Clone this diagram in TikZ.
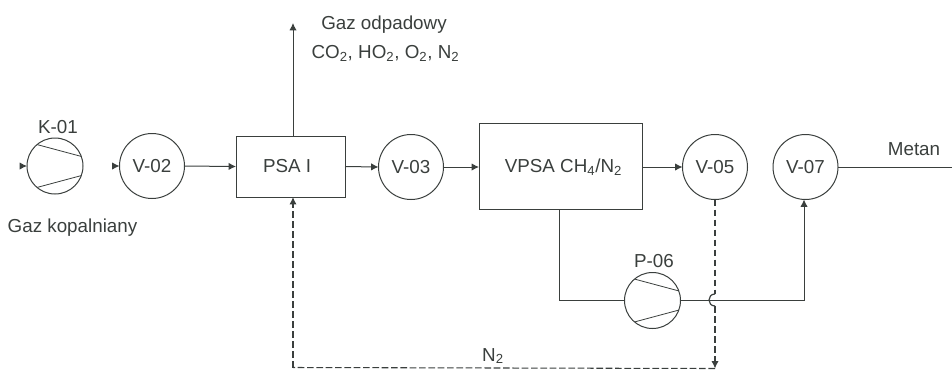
\documentclass[tikz,border=0pt]{standalone}
\usepackage{fontspec}
\setmainfont{Liberation Sans}
\usetikzlibrary{arrows.meta}
\definecolor{ink}{HTML}{3A3F3D}
\tikzset{
  base/.style={draw=ink,line width=.75pt,outer sep=0pt,inner sep=0pt,text=ink},
  valve/.style={base,circle,minimum size=48.75pt},
  pump/.style={base,circle,minimum size=42pt},
  unit/.style={base,rectangle},
  lbl/.style={text=ink,inner sep=0pt,outer sep=0pt},
  flow/.style={draw=ink,line width=.75pt,-{Latex[length=5.5pt,width=5.5pt]}},
  plain/.style={draw=ink,line width=.75pt},
  recycle/.style={draw=ink,line width=1.2pt,dash pattern=on 5pt off 2.5pt},
  recyclehead/.style={recycle,-{Latex[length=5.5pt,width=5.5pt]}},
  recyclethin/.style={draw=ink,line width=.8pt,dash pattern=on 5pt off 2pt},
  hop/.style={draw=ink,line width=.9pt},
  vane/.style={draw=ink,line width=.6pt}
}
\begin{document}
\begin{tikzpicture}[x=.75pt,y=-.75pt,font=\fontsize{14.1}{17}\selectfont]
\useasboundingbox (0,0) rectangle (952,369);
% units
\node[pump]  (k01) at (55,166) {};
\node[valve] (v02) at (152,166) {V-02};
\node[unit,minimum width=81.75pt,minimum height=45.75pt] (psa) at (290.5,166.5) {PSA I\hspace*{5pt}};
\node[valve] (v03) at (411,167) {V-03};
\node[unit,minimum width=122.25pt,minimum height=64.5pt] (vpsa) at (560.5,166) {};
\node[lbl] (lvpsa) at (563.5,167) {VPSA CH\textsubscript{4}/N\textsubscript{2}};
\node[valve] (v05) at (715,167) {V-05};
\node[valve] (v07) at (805.5,167) {V-07};
\node[pump]  (p06) at (652.5,300.5) {};
% compressor vanes
\foreach \c in {k01,p06}{
  \draw[vane] (\c.130) -- (\c.20);
  \draw[vane] (\c.-130) -- (\c.-20);
}
% labels
\node[lbl] (lk01) at (58,127) {K-01};
\node[lbl] (lgk)  at (72.5,228) {Gaz kopalniany};
\node[lbl] (lp06) at (654,261) {P-06};
\node[lbl] (ln2)  at (493,356) {N\textsubscript{2}};
\node[lbl] (lgo)  at (384,25) {Gaz odpadowy};
\node[lbl] (lco)  at (385.5,53) {CO\textsubscript{2}, HO\textsubscript{2}, O\textsubscript{2}, N\textsubscript{2}};
\node[lbl] (lmet) at (914,149) {Metan};
% free ends and bends
\coordinate (ink01) at (20,166);
\coordinate (inv02) at (113,166);
\coordinate (ptop) at (293,136);
\coordinate (top) at (293,23);
\coordinate (pbot) at (293,197);
\coordinate (out) at (952,167);
\coordinate (a) at (559,300.5);
\coordinate (b) at (804,300.5);
\coordinate (jt) at (715,294);
\coordinate (jb) at (715,306);
\coordinate (cr) at (715,368.5);
\coordinate (cl) at (293,367.5);
% connectors
\draw[flow] (ink01) -- (k01.west);
\draw[flow] (inv02) -- (v02.west);
\draw[flow] (v02.east) -- (psa.west);
\draw[flow] (psa.east) -- (v03.west);
\draw[flow] (v03.east) -- (vpsa.west |- v03.east);
\draw[flow] (vpsa.east |- v05.west) -- (v05.west);
\draw[flow] (ptop) -- (top);
\draw[plain] (v07.east) -- (out);
\draw[plain] (vpsa.south -| a) -- (a) -- (p06.west);
\draw[flow] (p06.east) -- (b) -- (v07.south -| b);
% recycle
\draw[recycle] (v05.south) -- (jt);
\draw[hop] (jt) .. controls (707,294) and (707,306) .. (jb);
\draw[recyclehead] (jb) -- (cr);
\draw[recyclethin] (cr) -- (cl);
\draw[recyclehead] (cl) -- (pbot);
\end{tikzpicture}
\end{document}
